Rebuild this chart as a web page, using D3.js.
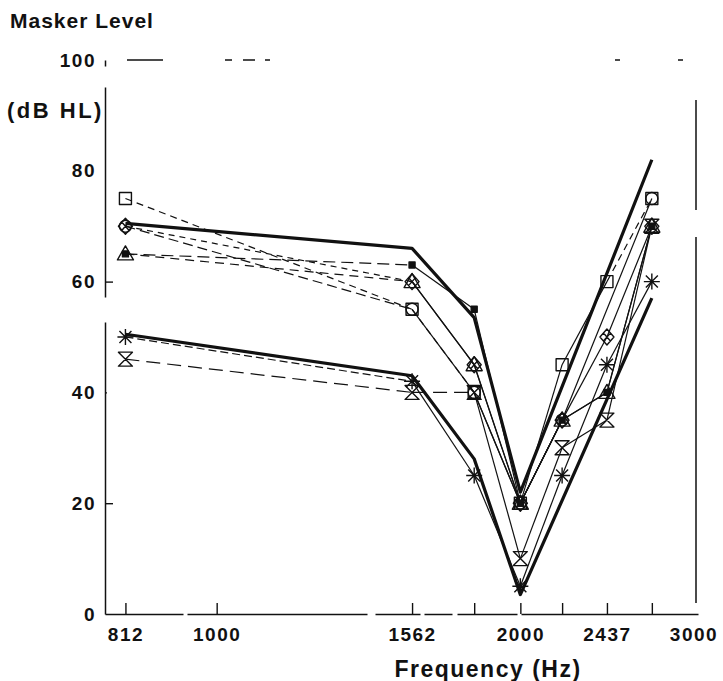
<!DOCTYPE html>
<html>
<head>
<meta charset="utf-8">
<script src="https://cdn.jsdelivr.net/npm/d3@7"></script>
<style>
  html, body { margin: 0; padding: 0; background: #fff; }
  svg { display: block; }
  text { font-family: "Liberation Sans", Arial, Helvetica, sans-serif; font-weight: bold; fill: #111; }
</style>
</head>
<body>
<svg id="chart" width="723" height="681"></svg>
<script>
// Masker frequencies (Hz) at which masker levels were measured
const frequencies = [812, 1562, 1800, 2000, 2200, 2437, 2700];

// Masker level (dB HL) per listener; null = no measurement at that frequency
const squareLevels       = [75, 55, 40, 20, 45, 60, 75];
const circleLevels       = [70, 55, 40, 20, 35, null, 75];
const diamondLevels      = [70, 60, 45, 20, 35, 50, 70];
const triangleLevels     = [65, 60, 45, 20, 35, 40, 70];
const filledSquareLevels = [65, 63, 55, 20, 35, 40, 70];
const asteriskLevels     = [50, 42, 25, 5, 25, 45, 60];
const hourglassLevels    = [46, 40, 40, 10, 30, 35, 70];

// Upper and lower boundary curves (no markers)
const upperBoundLevels = [70.5, 66, 53.5, 22, null, null, 82];
const lowerBoundLevels = [50.5, 43, 28, 3.5, null, null, 57];

// Axis ticks
const xTickValues = [812, 1000, 1562, 1800, 2000, 2200, 2437, 2700];
const xTickLabels = ["812", "1000", "1562", "", "2000", "", "2437", ""];
const xEndValue = 3000;
const xEndLabel = "3000";
const yTickValues = [0, 20, 40, 60, 80, 100];
const yTickLabels = ["0", "20", "40", "60", "80", "100"];

// Listener series: levels + drawing style (which segments are dashed)
const series = [
  { levels: squareLevels,       shape: "square",       dash: "7,5",  dashed: [0, 1, 5] },
  { levels: circleLevels,       shape: "circle",       dash: "10,5", dashed: [0] },
  { levels: diamondLevels,      shape: "diamond",      dash: "6,5",  dashed: [0] },
  { levels: triangleLevels,     shape: "triangle",     dash: "9,6",  dashed: [0] },
  { levels: filledSquareLevels, shape: "filledSquare", dash: "12,6", dashed: [0] },
  { levels: asteriskLevels,     shape: "asterisk",     dash: "8,4",  dashed: [0] },
  { levels: hourglassLevels,    shape: "hourglass",    dash: "14,7", dashed: [0, 1] }
];
const bounds = [upperBoundLevels, lowerBoundLevels];

const svg = d3.select("#chart");

const x = d3.scaleLog().domain([775, 3000]).range([105, 698]);
const y = d3.scaleLinear().domain([0, 100]).range([614, 60]);

const toPoints = levels => frequencies
  .map((f, i) => ({ f, v: levels[i] }))
  .filter(d => d.v !== null);

const line = d3.line().x(d => x(d.f)).y(d => y(d.v));

// ---- frame ----
const frame = svg.append("g").attr("stroke", "#111").attr("fill", "none");
// faded top border
frame.append("line")
  .attr("x1", 127).attr("x2", 690).attr("y1", y(100)).attr("y2", y(100))
  .attr("stroke-width", 1.3)
  .attr("stroke-dasharray", "36,62,7,11,12,10,5,345,5,58,5,100");
// right border
frame.append("line")
  .attr("x1", 696).attr("x2", 696).attr("y1", 100).attr("y2", 603)
  .attr("stroke-width", 1.5)
  .attr("stroke-dasharray", "110,27,400");

// ---- x axis ----
const xAxis = d3.axisBottom(x)
  .tickValues(xTickValues)
  .tickFormat((d, i) => xTickLabels[i])
  .tickSizeInner(-11)
  .tickSizeOuter(0)
  .tickPadding(14);

const gx = svg.append("g").attr("transform", `translate(0,${y(0)})`).call(xAxis);
gx.select(".domain").attr("stroke", "#111").attr("stroke-width", 1.6)
  .attr("stroke-dasharray", "78,4,180,8,45,4,28,5,60,4,200");
gx.selectAll(".tick line").attr("stroke", "#111").attr("stroke-width", 1.4);
gx.selectAll(".tick text")
  .attr("font-size", 19).attr("letter-spacing", 1.5)
  .attr("font-family", "Liberation Sans, Arial, sans-serif")
  .attr("font-weight", "bold").attr("fill", "#111");

gx.append("text")
  .attr("x", x(xEndValue) - 4).attr("y", 14).attr("dy", "0.71em")
  .attr("text-anchor", "middle")
  .attr("font-size", 19).attr("letter-spacing", 1.5)
  .text(xEndLabel);

// ---- y axis ----
const yAxis = d3.axisLeft(y)
  .tickValues(yTickValues)
  .tickFormat((d, i) => yTickLabels[i])
  .tickSize(0)
  .tickPadding(9);

const gy = svg.append("g").attr("transform", "translate(105,0)").call(yAxis);
gy.select(".domain").attr("stroke", "#111").attr("stroke-width", 1.5)
  .attr("stroke-dasharray", "292,25,210,21,8");
gy.selectAll(".tick text")
  .attr("font-size", 19).attr("letter-spacing", 1.5)
  .attr("font-family", "Liberation Sans, Arial, sans-serif")
  .attr("font-weight", "bold").attr("fill", "#111");
// short inward ticks
gy.selectAll(".tick").append("line")
  .attr("x1", 0)
  .attr("x2", d => (d === 20 || d === 60) ? 8 : (d === 40 ? 2 : 0))
  .attr("stroke", "#111").attr("stroke-width", 1.4);

// ---- titles ----
svg.append("text").attr("x", 10).attr("y", 28)
  .attr("font-size", 21).attr("letter-spacing", 1)
  .text("Masker Level");
svg.append("text").attr("x", 7).attr("y", 118)
  .attr("font-size", 22).attr("letter-spacing", 2.5)
  .text("(dB HL)");
svg.append("text").attr("x", 488).attr("y", 677)
  .attr("text-anchor", "middle")
  .attr("font-size", 23).attr("letter-spacing", 1.5)
  .text("Frequency (Hz)");

// ---- boundary curves ----
svg.append("g").selectAll("path").data(bounds).join("path")
  .attr("d", d => line(toPoints(d)))
  .attr("fill", "none").attr("stroke", "#111")
  .attr("stroke-width", 3.2).attr("stroke-linejoin", "round");

// ---- listener curves, one path per segment ----
const segments = series.flatMap(s => {
  const pts = toPoints(s.levels);
  return d3.pairs(pts).map(([a, b], i) => ({
    pts: [a, b],
    dash: s.dashed.includes(i) ? s.dash : null
  }));
});
svg.append("g").selectAll("path").data(segments).join("path")
  .attr("d", d => line(d.pts))
  .attr("fill", "none").attr("stroke", "#111")
  .attr("stroke-width", 1.2)
  .attr("stroke-dasharray", d => d.dash);

// ---- markers ----
function markerPath(shape) {
  switch (shape) {
    case "square":       return "M-6,-6H6V6H-6Z";
    case "circle":       return "M6,0A6,6 0 1,1 -6,0A6,6 0 1,1 6,0Z";
    case "diamond":      return "M0,-8L7,0L0,8L-7,0Z M-3.5,-4L3.5,4 M3.5,-4L-3.5,4";
    case "triangle":     return "M0,-8L8,6H-8Z";
    case "filledSquare": return "M-3,-3H3V3H-3Z";
    case "asterisk":     return "M0,-8V8 M-8,0H8 M-6,-6L6,6 M6,-6L-6,6";
    case "hourglass":    return "M-7,-7H7L-7,7H7Z";
  }
}

const markerGroups = svg.append("g").selectAll("g").data(series).join("g");
markerGroups.selectAll("path")
  .data(d => toPoints(d.levels).map(p => ({ ...p, shape: d.shape })))
  .join("path")
  .attr("transform", d => `translate(${x(d.f)},${y(d.v)})`)
  .attr("d", d => markerPath(d.shape))
  .attr("fill", d => d.shape === "filledSquare" ? "#111" : "none")
  .attr("stroke", "#111")
  .attr("stroke-width", 1.4)
  .attr("stroke-linejoin", "round");
</script>
</body>
</html>
